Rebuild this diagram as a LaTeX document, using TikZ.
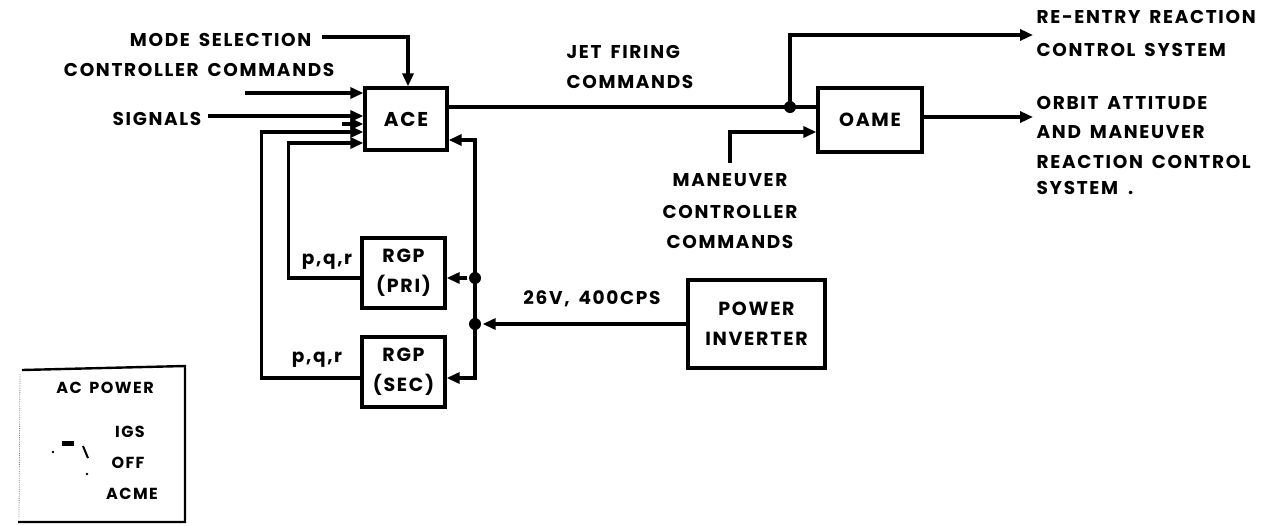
\documentclass[tikz,border=0pt]{standalone}
\usepackage{fontspec}
\setmainfont{Poppins}[LetterSpace=9,WordSpace=1.6]
\usetikzlibrary{arrows.meta,calc}
\begin{document}
\begin{tikzpicture}[x=1pt,y=-1pt,line width=3.3pt,
  blk/.style={draw,line width=3.3pt,inner sep=0pt,align=center,font=\fontsize{19}{30}\selectfont\bfseries},
  lbl/.style={inner sep=0pt,font=\fontsize{18.5}{20}\selectfont\bfseries},
  plbl/.style={inner sep=0pt,font=\fontsize{16}{18}\selectfont\bfseries},
  arr/.style={-{Triangle[length=13pt,width=11pt]}},
  junc/.style={circle,fill,inner sep=0pt,minimum size=12pt}]
\useasboundingbox (0,0) rectangle (1282,525);
% blocks
\node[blk,minimum width=82pt,minimum height=62pt,font=\fontsize{20}{24}\selectfont\bfseries] (ace) at (406,119) {ACE};
\node[blk,minimum width=83pt,minimum height=70pt] (pri) at (403.5,273) {RGP\\(PRI)};
\node[blk,minimum width=83pt,minimum height=70pt] (sec) at (403.5,372) {RGP\\(SEC)};
\node[blk,minimum width=137pt,minimum height=88pt] (pwr) at (756.5,324) {POWER\\INVERTER};
\node[blk,minimum width=104pt,minimum height=64pt] (oame) at (870,120) {OAME};
% junctions
\node[junc] (jpri) at (475,278) {};
\node[junc] (jpwr) at (475,324) {};
\node[junc] (jjet) at (790,107) {};
% text labels
\node[lbl,anchor=east] (ms) at (313,40) {MODE SELECTION};
\node[lbl,anchor=east] (cc) at (336,70) {CONTROLLER COMMANDS};
\node[lbl,anchor=east] (sg) at (203,119) {SIGNALS};
\node[lbl,anchor=west] (jf1) at (565,52) {JET FIRING};
\node[lbl,anchor=west] (jf2) at (565,82) {COMMANDS};
\node[lbl] (mv1) at (730,180) {MANEUVER};
\node[lbl] (mv2) at (730,212) {CONTROLLER};
\node[lbl] (mv3) at (730,242) {COMMANDS};
\node[lbl,anchor=west] (re1) at (1035,17) {RE-ENTRY REACTION};
\node[lbl,anchor=west] (re2) at (1035,50) {CONTROL SYSTEM};
\node[lbl,anchor=west] (or1) at (1035,103) {ORBIT ATTITUDE};
\node[lbl,anchor=west] (or2) at (1035,132) {AND MANEUVER};
\node[lbl,anchor=west] (or3) at (1035,162) {REACTION CONTROL};
\node[lbl,anchor=west] (or4) at (1035,188) {SYSTEM\hspace{10pt}.};
\node[lbl] (pq1) at (327,262) {p,q,r};
\node[lbl] (pq2) at (317,360) {p,q,r};
\node[lbl] (v26) at (592,299) {26V, 400CPS};
% coordinates
\coordinate (msL) at (322,37);
\coordinate (ccL) at (245,93);
\coordinate (sgL) at (208,116);
\coordinate (stL) at (342,124);
\coordinate (yOut) at (0,132);
\coordinate (yIn) at (0,143);
\coordinate (yR) at (0,140);
\coordinate (yM) at (0,107);
\coordinate (yMv) at (0,132);
\coordinate (ySec) at (0,378);
\coordinate (yOa) at (0,117);
\coordinate (reT) at (1033,35);
\coordinate (orT) at (1033,117);
\coordinate (mvB) at (730,163);
% connectors into ACE
\draw[arr] (msL) -| ($(ace.north)+(2,0)$);
\draw[arr] (ccL) -- (ccL -| ace.west);
\draw[arr] (sgL) -- (sgL -| ace.west);
\draw[arr] (stL) -- (stL -| ace.west);
\draw[arr] ($(sec.west)+(0,6)$) -- ++(-99,0) |- (ace.west |- yOut);
\draw[arr] ($(pri.west)+(0,5)$) -- ++(-72,0) |- (ace.west |- yIn);
% bus
\draw[arr] (jpri.center) |- (ace.east |- yR);
\draw (jpri.center) -- (jpwr.center);
\draw[arr] (jpwr.center) |- (sec.east |- ySec);
\draw[arr] (jpri) -- (jpri -| pri.east);
\draw[arr] (pwr.west) -- (jpwr);
% outputs
\draw (ace.east |- yM) -- (jjet.center) -- (oame.west |- yM);
\draw[arr] (jjet.center) |- (reT);
\draw[arr] (oame.east |- yOa) -- (orT);
\draw[arr] (mvB) |- (oame.west |- yMv);
% AC power panel
\draw[line width=2.4pt] (22,370) -- (185,366) -- (185,522) -- (18,522);
\draw[line width=0.8pt,densely dotted,gray] (20,374) -- (19,518);
\node[plbl] (acp) at (105,388) {AC POWER};
\node[plbl] (igs) at (130,432) {IGS};
\node[plbl] (off) at (128,463) {OFF};
\node[plbl] (acme) at (132,494) {ACME};
\fill (62,441) rectangle (74,446);
\draw[line width=2pt] (83,446) -- (88,458);
\fill (53,452) circle (1.4pt);
\fill (87,474) circle (1.4pt);
\end{tikzpicture}
\end{document}
